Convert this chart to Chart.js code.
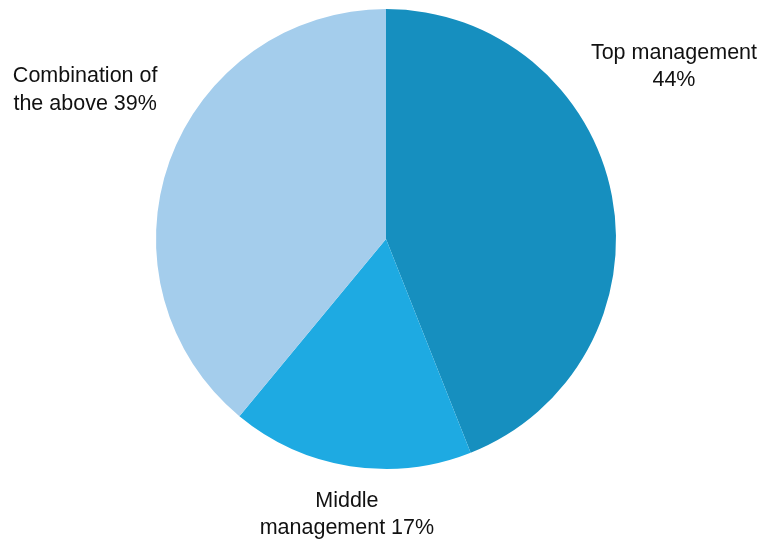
<!DOCTYPE html>
<html>
<head>
<meta charset="utf-8">
<script src="https://cdn.jsdelivr.net/npm/chart.js@4/dist/chart.umd.min.js"></script>
<style>
html,body{margin:0;padding:0;background:#fff;}
#wrap{width:761px;height:539px;position:relative;}
</style>
</head>
<body>
<div id="wrap"><canvas id="c" width="761" height="539"></canvas></div>
<script>
const categories = ["Top management", "Middle management", "Combination of the above"];
const values = [44, 17, 39];
const labelLines = [["Top management", "44%"], ["Middle", "management 17%"], ["Combination of", "the above 39%"]];
const colors = ["#168fbf", "#1eaae2", "#a4cdec"];
// label anchor offsets relative to pie centre, in units of radius
const labelOffsets = [[1.252, -0.809], [-0.17, 1.138], [-1.308, -0.707]];

const labelPlugin = {
  id: 'sliceLabels',
  afterDraw(chart) {
    const meta = chart.getDatasetMeta(0);
    const arc = meta.data[0];
    const cx = arc.x, cy = arc.y, r = arc.outerRadius;
    const ctx = chart.ctx;
    ctx.save();
    ctx.font = '21.5px "Liberation Sans", Arial, sans-serif';
    ctx.fillStyle = '#111';
    ctx.textAlign = 'center';
    ctx.textBaseline = 'middle';
    labelLines.forEach((lines, i) => {
      const x = cx + labelOffsets[i][0] * r;
      const y = cy + labelOffsets[i][1] * r;
      lines.forEach((t, k) => ctx.fillText(t, x, y + k * 27.5));
    });
    ctx.restore();
  }
};

new Chart(document.getElementById('c'), {
  type: 'pie',
  data: {
    labels: categories,
    datasets: [{ data: values, backgroundColor: colors, borderWidth: 0 }]
  },
  options: {
    responsive: false,
    animation: false,
    layout: { padding: { left: 11, right: 0, top: 9, bottom: 70 } },
    plugins: { legend: { display: false }, tooltip: { enabled: false } }
  },
  plugins: [labelPlugin]
});
</script>
</body>
</html>
